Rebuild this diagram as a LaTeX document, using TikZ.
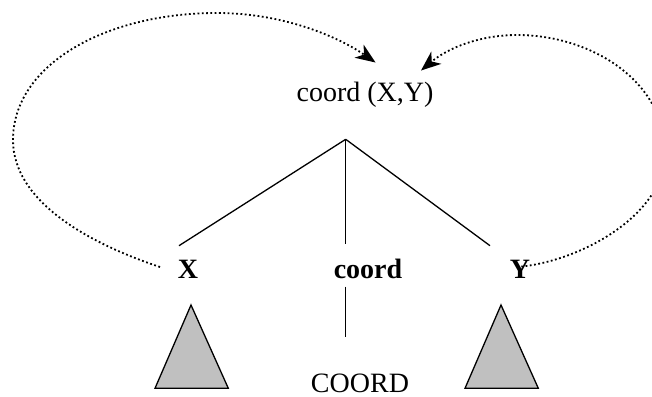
\documentclass[tikz,border=0pt]{standalone}
\usepackage{fontspec}
\setmainfont{Liberation Serif}
\usetikzlibrary{arrows.meta}
\begin{document}
\begin{tikzpicture}[x=1pt,y=-1pt,
  lbl/.style={inner sep=0pt,anchor=base,font=\fontsize{28}{32}\selectfont},
  blbl/.style={lbl,font=\fontsize{28}{32}\selectfont\bfseries},
  branch/.style={line width=1.3pt},
  subtree/.style={line width=1.3pt,fill={rgb,255:red,192;green,192;blue,192}},
  movearrow/.style={line width=1.8pt,dash pattern=on 1.8pt off 2.5pt,
    -{Stealth[length=20pt,width=16pt,inset=6pt,line width=0pt,sep=0pt]}}]
\useasboundingbox (0,0) rectangle (652,396);
% labels
\node[lbl]  (root)  at (365,101) {coord (X,Y)};
\node[blbl] (X)     at (188,278.3) {X};
\node[blbl] (coordb) at (368,278.3) {coord};
\node[blbl] (Y)     at (520,278.3) {Y};
\node[lbl]  (COORD) at (360,392) {COORD};
% tree
\coordinate (apex) at (345.7,139.3);
\coordinate (lend) at (179,245.7);
\coordinate (mend) at (345.7,244);
\coordinate (rend) at (490,245.7);
\draw[branch] (apex) -- (lend);
\draw[branch] (apex) -- (mend);
\draw[branch] (apex) -- (rend);
\coordinate (ctop) at (345.7,286.7);
\coordinate (cbot) at (345.7,336.7);
\draw[branch] (ctop) -- (cbot);
% triangles
\draw[subtree] (191,305) -- (155,388.3) -- (228.3,388.3) -- cycle;
\draw[subtree] (501,305) -- (465,388.3) -- (538.3,388.3) -- cycle;
% movement arrows
\coordinate (xs) at (160,267);
\coordinate (lt) at (375.5,62.5);
\coordinate (ys) at (517,267);
\coordinate (rt) at (421,70.5);
\draw[movearrow] (xs) .. controls (85,242) and (13,200) .. (13,140)
  .. controls (13,65) and (105,13) .. (217,13)
  .. controls (285,13) and (340,38) .. (lt);
\draw[movearrow] (ys) .. controls (580,262) and (665,215) .. (665,153)
  .. controls (665,80) and (590,35) .. (517,35)
  .. controls (480,35) and (448,48) .. (rt);
\end{tikzpicture}
\end{document}
